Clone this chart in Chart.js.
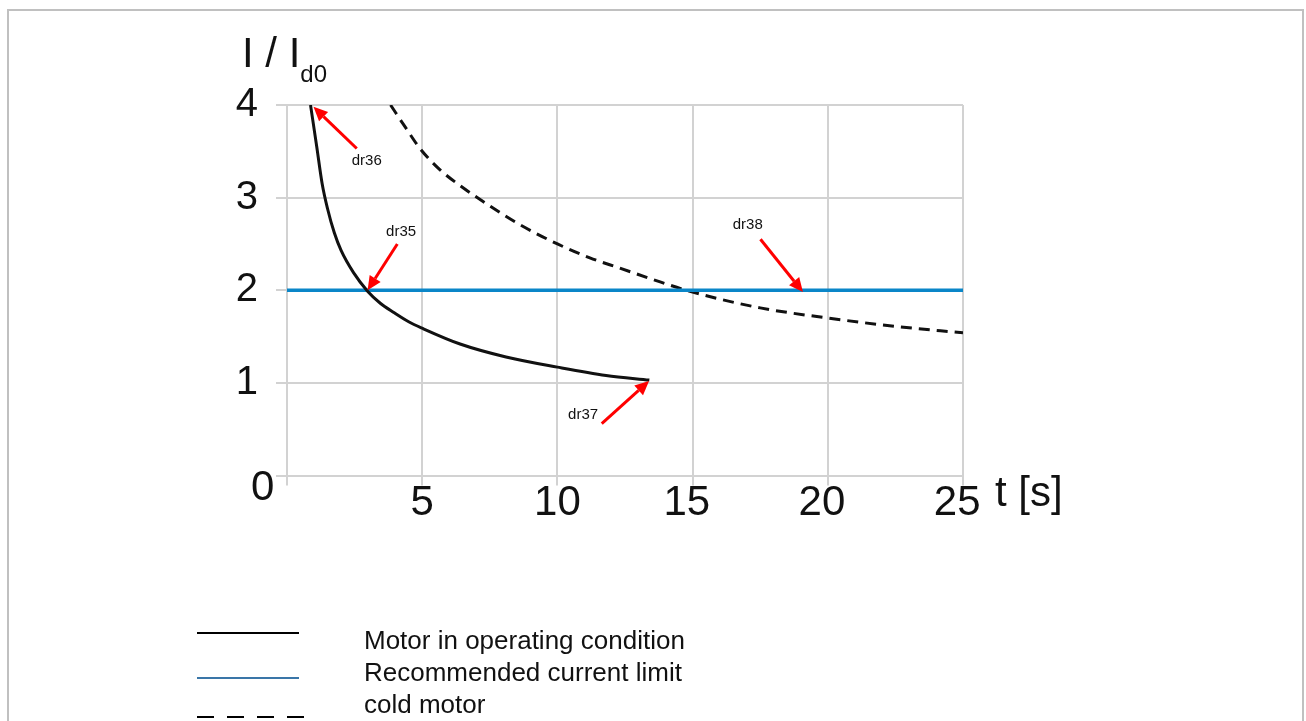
<!DOCTYPE html>
<html>
<head>
<meta charset="utf-8">
<script src="https://cdn.jsdelivr.net/npm/chart.js@4.4.1/dist/chart.umd.min.js"></script>
<style>
  html, body { margin:0; padding:0; background:#fff; width:1306px; height:721px; overflow:hidden; }
  #frame { position:absolute; left:7px; top:9px; width:1293px; height:800px; border:2px solid #c0c0c0; }
  #chart { position:absolute; left:0; top:0; }
  .txt { position:absolute; color:#111; font-family:"Liberation Sans", Arial, sans-serif; white-space:pre; }
  #ytitle { left:242px; top:32px; font-size:42px; line-height:1; }
  #ytitle span { font-size:24px; position:relative; top:15px; }
  #xtitle { left:995px; top:471px; font-size:42px; line-height:1; }
  #legendText { left:364px; top:624px; font-size:26px; line-height:32px; }
  .sample { position:absolute; left:197px; width:102px; height:2px; }
</style>
</head>
<body>
<div id="frame"></div>
<canvas id="chart" width="1306" height="721"></canvas>
<div class="txt" id="ytitle">I / I<span>d0</span></div>
<div class="txt" id="xtitle">t [s]</div>
<div class="sample" id="s0" style="top:632px;background:#000;"></div>
<div class="sample" id="s1" style="top:677px;background:#3a76a8;"></div>
<div class="sample" id="s2" style="top:716px;width:110px;background:repeating-linear-gradient(to right,#000 0 17px,transparent 17px 30px);"></div>
<div class="txt" id="legendText"></div>
<script>
// ---- data ----
const timeTicks = [0, 5, 10, 15, 20, 25];
const currentTicks = [0, 1, 2, 3, 4];
const seriesNames = ['Motor in operating condition', 'Recommended current limit', 'cold motor'];

const operatingT = [0.87, 1.1, 1.3, 1.5, 1.75, 2.0, 2.46, 2.98, 3.45, 3.95, 4.5, 5.0, 6.4, 8.1, 10.0, 11.8, 13.4];
const operatingI = [4.0, 3.55, 3.15, 2.88, 2.62, 2.43, 2.19, 1.99, 1.86, 1.76, 1.66, 1.59, 1.42, 1.28, 1.17, 1.08, 1.03];

const limitT = [0, 25];
const limitI = [2, 2];

const coldT = [3.83, 4.4, 4.92, 5.66, 6.4, 7.5, 8.6, 10.0, 11.2, 12.3, 13.8, 15.0, 17.5, 20.0, 22.5, 25.0];
const coldI = [4.0, 3.75, 3.53, 3.30, 3.13, 2.91, 2.71, 2.50, 2.35, 2.24, 2.09, 1.98, 1.81, 1.70, 1.61, 1.54];

const markerLabels = ['dr36', 'dr35', 'dr37', 'dr38'];
const markerTipT  = [0.98, 2.98, 13.39, 19.08];
const markerTipI  = [3.98, 2.0, 1.02, 1.98];
const markerTailT = [2.58, 4.08, 11.64, 17.51];
const markerTailI = [3.53, 2.50, 0.56, 2.55];
const markerTextT = [2.95, 4.22, 10.95, 17.04];
const markerTextI = [3.40, 2.63, 0.65, 2.71];

// ---- legend text ----
document.getElementById('legendText').textContent = seriesNames.join('\n');

const FONT = '"Liberation Sans", Arial, sans-serif';
const GRID = '#d2d2d2';
const toXY = (xs, ys) => xs.map((x, i) => ({ x: x, y: ys[i] }));

const arrowPlugin = {
  id: 'arrows',
  afterDatasetsDraw(chart) {
    const ctx = chart.ctx, xs = chart.scales.x, ys = chart.scales.y;
    ctx.save();
    for (let i = 0; i < markerLabels.length; i++) {
      const tx = xs.getPixelForValue(markerTipT[i]), ty = ys.getPixelForValue(markerTipI[i]);
      const sx = xs.getPixelForValue(markerTailT[i]), sy = ys.getPixelForValue(markerTailI[i]);
      const ang = Math.atan2(ty - sy, tx - sx);
      const headLen = 14, headW = 6.5;
      const bx = tx - headLen * Math.cos(ang), by = ty - headLen * Math.sin(ang);
      ctx.strokeStyle = '#ff0000';
      ctx.fillStyle = '#ff0000';
      ctx.lineWidth = 3;
      ctx.beginPath();
      ctx.moveTo(sx, sy);
      ctx.lineTo(bx, by);
      ctx.stroke();
      ctx.beginPath();
      ctx.moveTo(tx, ty);
      ctx.lineTo(bx + headW * Math.sin(ang), by - headW * Math.cos(ang));
      ctx.lineTo(bx - headW * Math.sin(ang), by + headW * Math.cos(ang));
      ctx.closePath();
      ctx.fill();
      ctx.fillStyle = '#111';
      ctx.font = '15px ' + FONT;
      ctx.textAlign = 'center';
      ctx.textBaseline = 'middle';
      ctx.fillText(markerLabels[i], xs.getPixelForValue(markerTextT[i]), ys.getPixelForValue(markerTextI[i]));
    }
    ctx.restore();
  }
};

new Chart(document.getElementById('chart'), {
  type: 'line',
  data: {
    datasets: [
      { label: seriesNames[0], data: toXY(operatingT, operatingI), borderColor: '#111', borderWidth: 3,
        pointRadius: 0, fill: false, cubicInterpolationMode: 'monotone' },
      { label: seriesNames[1], data: toXY(limitT, limitI), borderColor: '#0a86c8', borderWidth: 3.5,
        pointRadius: 0, fill: false },
      { label: seriesNames[2], data: toXY(coldT, coldI), borderColor: '#111', borderWidth: 3, borderDash: [11, 7],
        pointRadius: 0, fill: false, cubicInterpolationMode: 'monotone' }
    ]
  },
  options: {
    responsive: false,
    animation: false,
    devicePixelRatio: 1,
    layout: { padding: { left: 0, top: 105, right: 343, bottom: 0 } },
    plugins: { legend: { display: false }, tooltip: { enabled: false } },
    scales: {
      x: {
        type: 'linear', min: 0, max: 25,
        afterBuildTicks: s => { s.ticks = timeTicks.map(v => ({ value: v })); },
        afterFit: s => { s.height = 245.5; },
        grid: { color: GRID, lineWidth: 2, tickLength: 10 },
        border: { color: GRID, width: 2 },
        ticks: {
          color: '#111', padding: 0, autoSkip: false, maxRotation: 0,
          font: { family: FONT, size: 42, lineHeight: '35px' },
          callback: v => v === 0 ? '' : (v >= 15 ? v + ' ' : String(v))
        }
      },
      y: {
        type: 'linear', min: 0, max: 4, weight: 1,
        afterBuildTicks: s => { s.ticks = currentTicks.map(v => ({ value: v })); },
        afterFit: s => { s.width = 287; },
        grid: { color: GRID, lineWidth: 2, tickLength: 11 },
        border: { color: GRID, width: 2 },
        ticks: {
          color: '#111', padding: 18,
          font: { family: FONT, size: 40 },
          callback: v => v === 0 ? '' : String(v)
        }
      },
      y0: {
        axis: 'y', type: 'linear', min: 0, max: 4, position: 'left', weight: 0,
        afterBuildTicks: s => { s.ticks = [{ value: currentTicks[0] }]; },
        afterFit: s => { s.width = 0; },
        grid: { display: false, drawTicks: false },
        border: { display: false },
        ticks: {
          mirror: true, padding: -36, color: '#111',
          font: { family: FONT, size: 42, lineHeight: '25px' },
          callback: v => ['', String(v)]
        }
      }
    }
  },
  plugins: [arrowPlugin]
});
</script>
</body>
</html>
